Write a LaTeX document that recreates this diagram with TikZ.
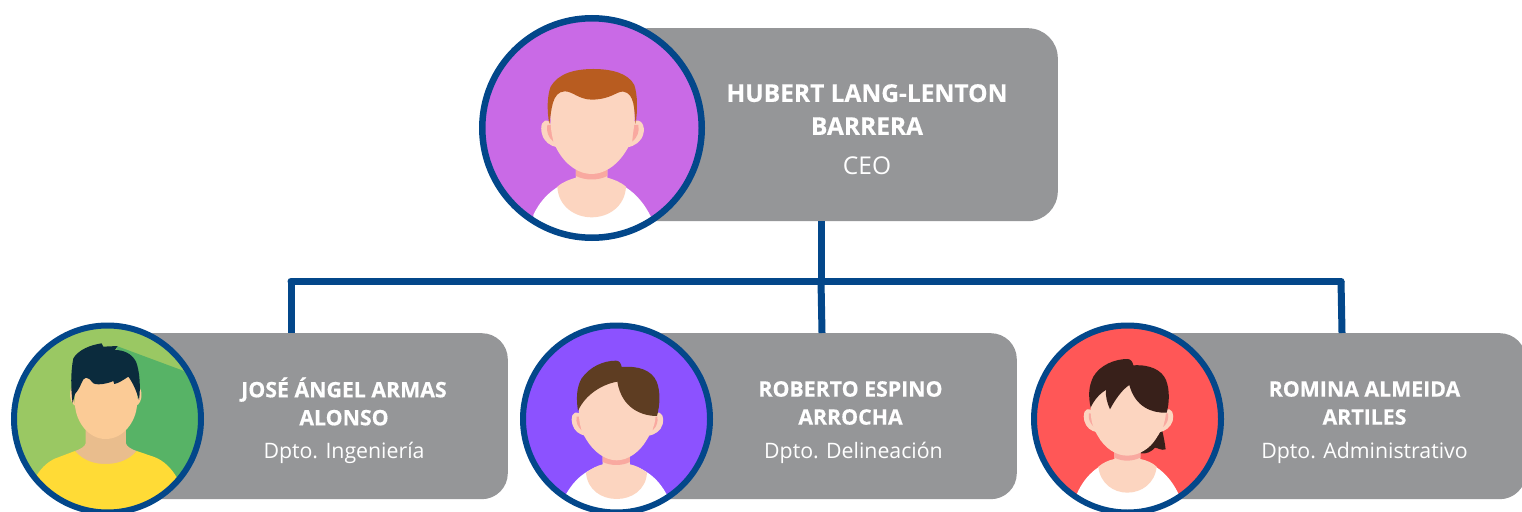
\documentclass[tikz,border=0pt]{standalone}
\usepackage{fontspec}
\setmainfont{Open Sans}[BoldFeatures={FakeBold=0.5}]
\definecolor{ringblue}{HTML}{03478A}
\definecolor{boxgray}{HTML}{959698}
\definecolor{skin}{HTML}{FCD5C0}
\definecolor{skinpink}{HTML}{F9A9A0}
\definecolor{skintan}{HTML}{FBCB96}
\definecolor{necktan}{HTML}{E9BD8D}
\definecolor{bgorchid}{HTML}{C96AE6}
\definecolor{bgleaf}{HTML}{9AC863}
\definecolor{bgshade}{HTML}{57B366}
\definecolor{bgviolet}{HTML}{8C52FF}
\definecolor{bgcoral}{HTML}{FF5757}
\definecolor{hairrust}{HTML}{B85C20}
\definecolor{hairnavy}{HTML}{0B2B3D}
\definecolor{hairbrown}{HTML}{5E3D22}
\definecolor{hairdark}{HTML}{38201A}
\definecolor{shirtyellow}{HTML}{FFDB36}
\tikzset{
  x=1pt,y=-1pt,
  cardbig/.style={fill=boxgray,rounded corners=30pt,inner sep=0pt,minimum width=440pt,minimum height=193pt},
  card/.style={fill=boxgray,rounded corners=26pt,inner sep=0pt,minimum width=400pt,minimum height=166pt},
  ringbig/.style={circle,draw=ringblue,line width=6.5pt,minimum size=219.5pt,inner sep=0pt},
  ring/.style={circle,draw=ringblue,line width=6pt,minimum size=187pt,inner sep=0pt},
  wire/.style={draw=ringblue,line width=7pt,line cap=round},
  nameA/.style={text=white,align=center,font=\fontsize{24.5}{33}\selectfont\bfseries,inner sep=0pt},
  roleA/.style={text=white,font=\fontsize{24.5}{28}\selectfont,inner sep=0pt},
  nameB/.style={text=white,align=center,font=\fontsize{21.3}{28}\selectfont\bfseries,inner sep=0pt},
  roleB/.style={text=white,font=\fontsize{21.3}{26}\selectfont,inner sep=0pt},
  zoomA/.style={shift={(470,10)},x=0.3333pt,y=-0.3333pt},
  zoomB/.style={shift={(0,315)},x=0.3333pt,y=-0.3333pt},
  zoomC/.style={shift={(510,315)},x=0.3333pt,y=-0.3333pt},
  zoomD/.style={shift={(1020,315)},x=0.3333pt,y=-0.3333pt},
}
\begin{document}
\begin{tikzpicture}
\useasboundingbox (0,0) rectangle (1522,511);
\fill[white] (0,0) rectangle (1522,511);

% cards
\node[cardbig,anchor=north east] (ceocard) at (1058,28) {};
\node[card,anchor=north east] (card1) at (508,333) {};
\node[card,anchor=north east] (card2) at (1017,333) {};
\node[card,anchor=north east] (card3) at (1526,333) {};

% connectors
\coordinate (busmid) at (821,281);
\coordinate (busl) at (291,281);
\coordinate (busr) at (1341,281);
\draw[wire,line cap=butt] (ceocard.south -| busmid) -- (busmid);
\draw[wire] (busl) -- (busr);
\draw[wire,line cap=butt] (busl) -- (busl |- card1.north);
\draw[wire,line cap=butt] (busmid) -- ([xshift=1pt]busmid |- card2.north);
\draw[wire,line cap=butt] (busr) -- ([xshift=1pt]busr |- card3.north);

% CEO avatar
\begin{scope}
\clip (592,128) circle (111);
\fill[bgorchid] (592,128) circle (111);
\begin{scope}[zoomA]
\fill[white] (190,615) .. controls (225,540) and (290,505) .. (365,500) .. controls (440,505) and (505,540) .. (545,625) -- (545,700) -- (190,700) -- cycle;
\fill[skin] (318,460) -- (412,460) -- (412,503) .. controls (430,508) and (450,515) .. (468,530) .. controls (465,590) and (415,622) .. (365,622) .. controls (315,622) and (265,590) .. (262,530) .. controls (280,515) and (300,508) .. (318,503) -- cycle;
\fill[skinpink] (318,470) -- (412,470) -- (412,498) .. controls (385,512) and (345,512) .. (318,498) -- cycle;
\fill[skin] (240,335) .. controls (215,322) and (210,350) .. (216,372) .. controls (222,395) and (240,408) .. (262,412) -- cycle;
\fill[skin] (490,335) .. controls (515,322) and (526,350) .. (520,372) .. controls (514,395) and (495,408) .. (472,412) -- cycle;
\fill[skinpink] (232,345) .. controls (228,365) and (235,382) .. (250,395) -- (248,345) -- cycle;
\fill[skinpink] (505,345) .. controls (509,365) and (502,382) .. (487,395) -- (490,345) -- cycle;
\fill[skin] (245,260) .. controls (250,225) and (300,230) .. (365,230) .. controls (430,230) and (490,225) .. (492,270) .. controls (498,340) and (490,390) .. (470,420) .. controls (440,470) and (400,492) .. (365,492) .. controls (330,492) and (290,470) .. (262,420) .. controls (240,385) and (238,320) .. (245,260) -- cycle;
\fill[hairrust] (238,342) .. controls (230,300) and (232,255) .. (242,230) .. controls (265,190) and (315,177) .. (370,177) .. controls (425,177) and (475,190) .. (493,225) .. controls (503,255) and (503,300) .. (497,342) .. controls (492,300) and (495,250) .. (460,245) .. controls (440,243) and (425,268) .. (365,269) .. controls (325,268) and (310,245) .. (285,244) .. controls (245,245) and (245,300) .. (238,342) -- cycle;
\end{scope}
\end{scope}
\node[ringbig] (ceoring) at (592,128) {};

% Person 1
\begin{scope}
\clip (107.5,419) circle (94);
\fill[bgleaf] (107.5,419) circle (94);
\begin{scope}[zoomB]
\fill[bgshade] (350,93) -- (552,168) -- (640,300) -- (600,500) -- (400,500) -- (340,300) -- cycle;
\fill[necktan] (257,330) -- (378,330) -- (378,385) .. controls (380,395) and (395,403) .. (410,408) -- (370,460) -- (260,460) -- (225,408) .. controls (240,403) and (255,395) .. (257,385) -- cycle;
\fill[shirtyellow] (108,485) .. controls (125,455) and (150,435) .. (175,427) -- (225,408) .. controls (250,438) and (285,447) .. (315,447) .. controls (350,447) and (385,438) .. (410,408) -- (460,425) .. controls (490,435) and (515,460) .. (532,490) -- (532,610) -- (108,610) -- cycle;
\fill[skintan] (218,215) .. controls (205,225) and (208,262) .. (225,272) -- cycle;
\fill[skintan] (415,215) .. controls (430,225) and (427,262) .. (410,272) -- cycle;
\fill[skintan] (225,180) -- (410,180) -- (411,270) .. controls (408,320) and (370,372) .. (317,372) .. controls (265,372) and (228,320) .. (225,270) -- cycle;
\fill[hairnavy] (218,265) .. controls (212,220) and (212,170) .. (220,130) .. controls (235,105) and (270,90) .. (305,85) -- (310,95) -- (353,93) -- (345,105) .. controls (370,105) and (395,115) .. (408,140) .. controls (420,170) and (422,220) .. (417,255) .. controls (410,230) and (400,205) .. (385,185) .. controls (370,195) and (355,205) .. (343,207) -- (340,198) .. controls (325,205) and (295,212) .. (280,205) .. controls (270,195) and (268,188) .. (258,188) .. controls (245,190) and (245,215) .. (225,237) -- cycle;
\end{scope}
\end{scope}
\node[ring] (ring1) at (107.5,419) {};

% Person 2
\begin{scope}
\clip (616.5,419) circle (94);
\fill[bgviolet] (616.5,419) circle (94);
\begin{scope}[zoomC]
\fill[white] (168,538) .. controls (195,490) and (240,448) .. (320,445) .. controls (400,448) and (445,490) .. (472,542) -- (472,610) -- (168,610) -- cycle;
\fill[skin] (278,410) -- (360,410) -- (360,448) .. controls (378,452) and (395,460) .. (411,473) .. controls (408,525) and (365,552) .. (320,552) .. controls (275,552) and (232,525) .. (228,473) .. controls (245,460) and (262,452) .. (278,448) -- cycle;
\fill[skinpink] (278,420) -- (360,420) -- (360,441) .. controls (335,453) and (303,453) .. (278,441) -- cycle;
\fill[skin] (208,295) .. controls (185,285) and (182,310) .. (187,328) .. controls (193,348) and (207,358) .. (225,362) -- cycle;
\fill[skin] (435,295) .. controls (458,285) and (463,310) .. (458,328) .. controls (452,348) and (435,358) .. (418,362) -- cycle;
\fill[skinpink] (200,305) .. controls (197,322) and (203,335) .. (215,346) -- (212,305) -- cycle;
\fill[skinpink] (442,305) .. controls (445,320) and (440,335) .. (428,346) -- (432,305) -- cycle;
\fill[skin] (207,280) .. controls (215,220) and (260,190) .. (320,190) .. controls (400,190) and (435,240) .. (437,290) .. controls (438,330) and (425,350) .. (410,375) .. controls (390,410) and (355,436) .. (320,436) .. controls (285,436) and (250,410) .. (228,372) .. controls (210,345) and (205,310) .. (207,280) -- cycle;
\fill[hairbrown] (204,288) .. controls (198,250) and (200,215) .. (215,190) .. controls (240,155) and (280,137) .. (318,137) .. controls (328,137) and (333,145) .. (335,156) .. controls (385,152) and (425,165) .. (440,200) .. controls (452,230) and (450,270) .. (441,303) .. controls (395,303) and (335,280) .. (322,200) .. controls (275,208) and (225,240) .. (204,288) -- cycle;
\end{scope}
\end{scope}
\node[ring] (ring2) at (616.5,419) {};

% Person 3
\begin{scope}
\clip (1127.5,419) circle (94);
\fill[bgcoral] (1127.5,419) circle (94);
\begin{scope}[zoomD]
\fill[white] (170,538) .. controls (195,480) and (245,432) .. (322,430) .. controls (400,432) and (450,480) .. (478,542) -- (478,610) -- (170,610) -- cycle;
\fill[hairdark] (425,340) .. controls (430,360) and (435,385) .. (437,403) .. controls (425,408) and (412,398) .. (405,398) .. controls (395,410) and (378,418) .. (362,415) -- (360,380) -- cycle;
\fill[skin] (283,400) -- (361,400) -- (361,432) .. controls (380,436) and (397,443) .. (410,455) .. controls (405,505) and (365,533) .. (322,533) .. controls (280,533) and (240,505) .. (235,455) .. controls (250,443) and (265,436) .. (283,432) -- cycle;
\fill[skinpink] (283,410) -- (361,410) -- (361,428) .. controls (335,440) and (308,440) .. (283,428) -- cycle;
\fill[skin] (214,285) .. controls (192,275) and (188,300) .. (193,318) .. controls (199,338) and (212,348) .. (232,352) -- cycle;
\fill[skin] (435,285) .. controls (458,275) and (463,300) .. (458,318) .. controls (452,338) and (435,348) .. (418,352) -- cycle;
\fill[skinpink] (207,295) .. controls (204,312) and (210,325) .. (222,336) -- (219,295) -- cycle;
\fill[skinpink] (444,295) .. controls (447,310) and (442,325) .. (430,336) -- (434,295) -- cycle;
\fill[skin] (212,270) .. controls (225,215) and (265,190) .. (325,190) .. controls (400,190) and (437,240) .. (438,280) .. controls (439,320) and (425,345) .. (410,368) .. controls (390,402) and (355,422) .. (322,422) .. controls (290,422) and (255,402) .. (233,362) .. controls (215,335) and (210,300) .. (212,270) -- cycle;
\fill[hairdark] (212,278) .. controls (205,245) and (205,215) .. (220,185) .. controls (240,150) and (285,132) .. (322,132) .. controls (332,132) and (338,140) .. (340,151) .. controls (390,148) and (425,165) .. (438,195) .. controls (450,225) and (448,265) .. (440,293) .. controls (395,295) and (345,275) .. (328,210) .. controls (305,225) and (285,255) .. (270,283) .. controls (262,265) and (256,245) .. (258,225) .. controls (240,235) and (222,255) .. (212,278) -- cycle;
\end{scope}
\end{scope}
\node[ring] (ring3) at (1127.5,419) {};

% text
\node[nameA] (ceoname) at (867,109.5) {HUBERT LANG-LENTON\\BARRERA};
\node[roleA,anchor=base] (ceorole) at (867,174) {CEO};
\node[nameB] (name1) at (344,401.5) {JOSÉ ÁNGEL ARMAS\\ALONSO};
\node[roleB,anchor=base] (role1) at (344,458) {Dpto. Ingeniería};
\node[nameB] (name2) at (850.5,403) {ROBERTO ESPINO\\ARROCHA};
\node[roleB,anchor=base] (role2) at (853.5,458) {Dpto. Delineación};
\node[nameB] (name3) at (1364.5,403) {ROMINA ALMEIDA\\ARTILES};
\node[roleB,anchor=base] (role3) at (1364.5,458) {Dpto. Administrativo};
\end{tikzpicture}
\end{document}
